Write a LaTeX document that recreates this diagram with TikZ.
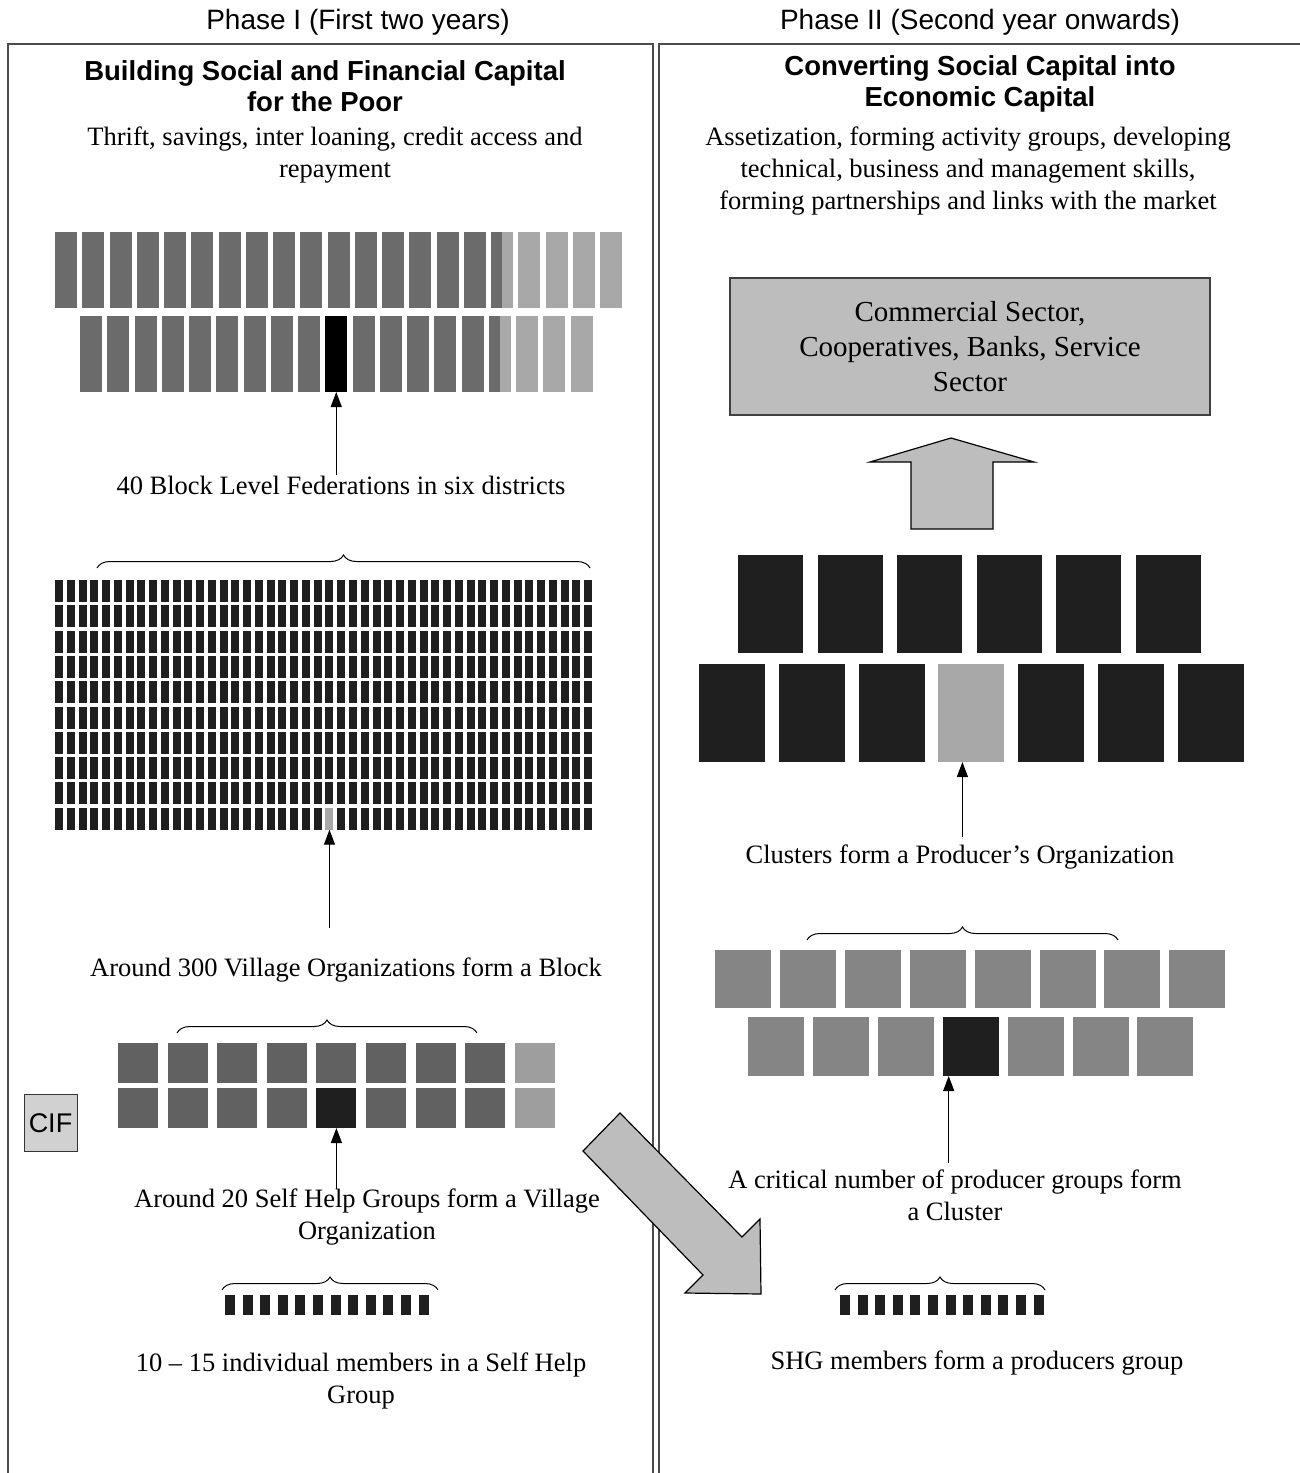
\documentclass[tikz,border=0pt]{standalone}
\usepackage{fontspec}
\setmainfont{Liberation Serif}
\setsansfont{Liberation Sans}
\usetikzlibrary{arrows.meta,decorations.pathreplacing}
\definecolor{feddark}{gray}{0.42}
\definecolor{fedlight}{gray}{0.66}
\definecolor{shgmid}{gray}{0.38}
\definecolor{shglight}{gray}{0.62}
\definecolor{cluster}{gray}{0.52}
\definecolor{nearblack}{gray}{0.12}
\definecolor{panelgray}{gray}{0.74}
\begin{document}
\begin{tikzpicture}[x=1pt,y=-1pt,
	lbl/.style={font=\fontsize{26.5}{32}\selectfont, align=center, inner sep=0pt},
	hdr/.style={font=\sffamily\bfseries\fontsize{27.5}{31}\selectfont, align=center, inner sep=0pt},
	phase/.style={font=\sffamily\fontsize{28}{30}\selectfont, inner sep=0pt},
	blk/.style={inner sep=0pt, outer sep=0pt, minimum width=#1},
	fed/.style={blk=22pt, minimum height=76pt, fill=feddark},
	shg/.style={blk=40pt, minimum height=40pt, fill=shgmid},
	pobox/.style={blk=65pt, minimum height=98pt, fill=nearblack},
	clbox/.style={blk=56pt, minimum height=58pt, fill=cluster},
	uparrow/.style={-{Triangle[width=11pt,length=15pt]}, line width=1.2pt},
	brc/.style={decorate, decoration={brace, amplitude=13pt}, line width=1pt},
	frame/.style={draw=black!70, line width=1.6pt},
	fat/.style={fill=panelgray, draw=black, line width=1.2pt, line join=miter}]
	\useasboundingbox (0,0) rectangle (1300,1473);
	\draw [frame] (8,1480) -- (8,44) -- (653,44) -- (653,1480);
	\draw [frame] (659,1480) -- (659,44) -- (1310,44);
	\node [phase] (phase1) at (358,22) {Phase I (First two years)};
	\node [phase] (phase2) at (980,22) {Phase II (Second year onwards)};
	\node [hdr] (lefthdr) at (325,86) {Building Social and Financial Capital\\for the Poor};
	\node [lbl] (leftsub) at (335,155) {Thrift, savings, inter loaning, credit access and\\repayment};
	\node [hdr] (righthdr) at (980,84) {Converting Social Capital into\\Economic Capital};
	\node [lbl] (rightsub) at (968,171) {Assetization, forming activity groups, developing\\technical, business and management skills,\\forming partnerships and links with the market};
	\foreach \i in {1,...,16} \node [fed] (fa\i) at ({66+27.25*(\i-1)},270) {};
	\foreach \i in {17,...,21} \node [fed, fill=fedlight] (fa\i) at ({66+27.25*(\i-1)},270) {};
	\fill [feddark] (fa17.north west) rectangle (fa17.south);
	\foreach \i in {1,...,9,11,12,...,15} \node [fed] (fb\i) at ({91+27.25*(\i-1)},354) {};
	\foreach \i in {16,...,19} \node [fed, fill=fedlight] (fb\i) at ({91+27.25*(\i-1)},354) {};
	\fill [feddark] (fb16.north west) rectangle (fb16.south);
	\node [fed, fill=black] (fedhl) at ({91+27.25*9},354) {};
	\node [lbl] (fedlabel) at (341,485) {40 Block Level Federations in six districts};
	\draw [uparrow] (fedhl.south |- fedlabel.north) -- (fedhl.south);
	\draw [brc] (97,568) -- (590,568);
	\foreach \r in {0,...,9} \foreach \c in {0,...,45} \fill [nearblack] ({55+11.76*\c},{580+25.3*\r}) rectangle +(8,22);
	\node [blk=8pt, minimum height=22pt, fill=fedlight] (vohl) at ({59+11.76*23},{591+25.3*9}) {};
	\node [lbl] (volabel) at (346,970) {Around 300 Village Organizations form a Block};
	\draw [uparrow, shorten <=30pt] (vohl.south |- volabel.north) -- (vohl.south);
	\draw [brc] (177,1033) -- (477,1033);
	\foreach \r in {0,1} {
		\foreach \c in {0,...,7} \node [shg] (s\r\c) at ({138+49.6*\c},{1063+45*\r}) {};
		\node [shg, fill=shglight] (s\r8) at ({138+49.6*8},{1063+45*\r}) {};
	}
	\node [shg, fill=nearblack] (shghl) at ({138+49.6*4},1108) {};
	\node [draw=black!80, line width=1pt, fill=panelgray!70, minimum width=53pt, minimum height=57pt, inner sep=0pt, font=\sffamily\fontsize{27}{30}\selectfont] (cif) at (50.5,1123) {CIF};
	\node [lbl] (shglabel) at (367,1217) {Around 20 Self Help Groups form a Village\\Organization};
	\draw [uparrow] (shghl.south |- shglabel.north) -- (shghl.south);
	\draw [brc] (222,1290) -- (438,1290);
	\foreach \i in {0,...,11} \fill [nearblack] ({225+17.6*\i},1295) rectangle +(10,20);
	\node [lbl] (memlabel) at (361,1381) {10 -- 15 individual members in a Self Help\\Group};
	\node [draw=black!75, line width=1.2pt, fill=panelgray, minimum width=480pt, minimum height=137pt, inner sep=0pt, align=center, font=\fontsize{29}{35}\selectfont] (sector) at (970,346.5) {Commercial Sector,\\Cooperatives, Banks, Service\\Sector};
	\filldraw [fat] (911,529) -- (911,462) -- (870,462) -- (951,438) -- (1034,462) -- (993,462) -- (993,529) -- cycle;
	\foreach \i in {0,...,5} \node [pobox] (pa\i) at ({770.5+79.6*\i},604) {};
	\foreach \i in {0,1,2,4,5,6} \node [pobox, minimum width=66pt] (pb\i) at ({732+79.8*\i},713) {};
	\node [pobox, minimum width=66pt, fill=fedlight] (pohl) at ({732+79.8*3},713) {};
	\node [lbl] (polabel) at (960,857) {Clusters form a Producer’s Organization};
	\draw [uparrow, shorten <=8pt] ([xshift=-9pt]pohl.south |- polabel.north) -- ([xshift=-9pt]pohl.south);
	\draw [brc] (807,940) -- (1118,940);
	\foreach \i in {0,...,7} \node [clbox] (ca\i) at ({743+64.9*\i},979) {};
	\foreach \i in {0,1,2,4,5,6} \node [clbox, minimum height=59pt] (cb\i) at ({776+64.9*\i},1046.5) {};
	\node [clbox, minimum height=59pt, fill=nearblack] (clhl) at ({776+64.9*3},1046.5) {};
	\node [lbl] (cllabel) at (955,1195) {A critical number of producer groups form\\a Cluster};
	\draw [uparrow, shorten <=6pt] ([xshift=6pt]clhl.south west |- cllabel.north) -- ([xshift=6pt]clhl.south west);
	\draw [brc] (835,1290) -- (1045,1290);
	\foreach \i in {0,...,11} \fill [nearblack] ({840+17.6*\i},1295) rectangle +(10,20);
	\node [lbl] (pglabel) at (977,1363) {SHG members form a producers group};
	\filldraw [fat] (620,1113) -- (742,1237) -- (760,1219) -- (761,1294) -- (685,1293) -- (703,1275) -- (583,1151) -- cycle;
\end{tikzpicture}
\end{document}
